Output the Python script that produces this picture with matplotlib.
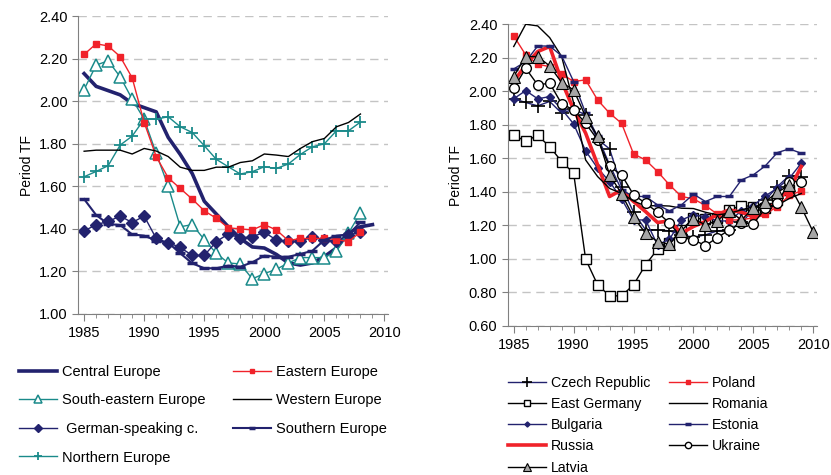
import matplotlib
matplotlib.use("Agg")
import matplotlib.pyplot as plt
from matplotlib.ticker import MultipleLocator, FormatStrFormatter

plt.rcParams["font.family"] = ["Liberation Sans", "DejaVu Sans"]

# ---------------------------------------------------------------------------
# Data: period TFR by region (left) and by country (right)
# ---------------------------------------------------------------------------
years_85_08 = list(range(1985, 2009))
years_85_09 = list(range(1985, 2010))
years_85_10 = list(range(1985, 2011))

central_europe = [2.13, 2.07, 2.05, 2.03, 1.99, 1.97, 1.95, 1.83, 1.75, 1.66,
                  1.53, 1.47, 1.41, 1.355, 1.315, 1.31, 1.28, 1.24, 1.23, 1.24,
                  1.27, 1.31, 1.38, 1.41, 1.42]
eastern_europe = [2.22, 2.27, 2.26, 2.21, 2.11, 1.90, 1.74, 1.64, 1.59, 1.54,
                  1.485, 1.45, 1.405, 1.40, 1.395, 1.42, 1.395, 1.345, 1.355, 1.355,
                  1.355, 1.35, 1.34, 1.385]
south_eastern_europe = [2.055, 2.17, 2.19, 2.115, 2.01, 1.915, 1.755, 1.60, 1.41, 1.42,
                        1.35, 1.285, 1.24, 1.235, 1.165, 1.19, 1.21, 1.24, 1.265, 1.265,
                        1.265, 1.295, 1.38, 1.475]
western_europe = [1.765, 1.77, 1.77, 1.77, 1.752, 1.778, 1.766, 1.74, 1.69, 1.675,
                  1.675, 1.69, 1.69, 1.712, 1.72, 1.752, 1.747, 1.74, 1.778, 1.81,
                  1.825, 1.88, 1.90, 1.94]
german_speaking = [1.39, 1.42, 1.435, 1.46, 1.43, 1.46, 1.355, 1.335, 1.313, 1.275,
                   1.275, 1.34, 1.376, 1.357, 1.363, 1.384, 1.348, 1.341, 1.341, 1.363,
                   1.348, 1.341, 1.371, 1.384]
southern_europe = [1.54, 1.465, 1.423, 1.418, 1.374, 1.368, 1.345, 1.335, 1.285, 1.238,
                   1.215, 1.215, 1.227, 1.222, 1.243, 1.274, 1.269, 1.269, 1.282, 1.297,
                   1.348, 1.368, 1.374, 1.431]
northern_europe = [1.645, 1.67, 1.697, 1.794, 1.836, 1.916, 1.916, 1.927, 1.88, 1.853,
                   1.791, 1.727, 1.692, 1.658, 1.669, 1.692, 1.684, 1.705, 1.75, 1.786,
                   1.80, 1.861, 1.861, 1.902]

czech_republic = [1.955, 1.933, 1.913, 1.939, 1.869, 1.893, 1.859, 1.714, 1.656, 1.431,
                  1.278, 1.173, 1.173, 1.167, 1.143, 1.129, 1.143, 1.167, 1.173, 1.217,
                  1.29, 1.35, 1.431, 1.497, 1.491]
poland = [2.33, 2.217, 2.161, 2.147, 2.104, 2.058, 2.068, 1.948, 1.869, 1.809,
          1.626, 1.59, 1.521, 1.441, 1.372, 1.358, 1.318, 1.266, 1.232, 1.232,
          1.246, 1.266, 1.312, 1.378, 1.406]
east_germany = [1.736, 1.704, 1.736, 1.67, 1.58, 1.511, 0.998, 0.845, 0.779, 0.779,
                0.845, 0.964, 1.057, 1.093, 1.173, 1.242, 1.236, 1.242, 1.292, 1.318,
                1.312, 1.302, 1.352, 1.41]
romania = [2.267, 2.40, 2.39, 2.32, 2.207, 1.93, 1.59, 1.491, 1.42, 1.39,
           1.345, 1.315, 1.318, 1.315, 1.302, 1.30, 1.278, 1.262, 1.272, 1.292,
           1.31, 1.305, 1.32, 1.36, 1.39]
bulgaria = [1.955, 2.004, 1.955, 1.968, 1.893, 1.805, 1.644, 1.541, 1.461, 1.358,
            1.232, 1.232, 1.083, 1.117, 1.232, 1.262, 1.252, 1.226, 1.226, 1.286,
            1.318, 1.376, 1.421, 1.481, 1.571]
estonia = [2.133, 2.177, 2.27, 2.27, 2.211, 2.058, 1.869, 1.73, 1.561, 1.411,
           1.372, 1.372, 1.322, 1.286, 1.322, 1.386, 1.342, 1.372, 1.372, 1.471,
           1.501, 1.555, 1.634, 1.656, 1.63]
russia = [2.058, 2.157, 2.237, 2.267, 2.06, 1.89, 1.75, 1.561, 1.372, 1.411,
          1.342, 1.282, 1.217, 1.226, 1.153, 1.193, 1.223, 1.266, 1.292, 1.278,
          1.252, 1.266, 1.352, 1.411, 1.551]
ukraine = [2.018, 2.137, 2.038, 2.048, 1.925, 1.889, 1.809, 1.71, 1.551, 1.501,
           1.382, 1.332, 1.278, 1.213, 1.127, 1.113, 1.079, 1.127, 1.173, 1.213,
           1.209, 1.302, 1.332, 1.461, 1.461]
latvia = [2.088, 2.207, 2.207, 2.151, 2.052, 2.008, 1.849, 1.73, 1.501, 1.388,
          1.248, 1.153, 1.103, 1.087, 1.169, 1.238, 1.203, 1.228, 1.286, 1.232,
          1.302, 1.342, 1.396, 1.441, 1.308, 1.159]

NAVY = "#22226e"
TEAL = "#1a8a8a"
RED = "#f0222a"


def style_axes(ax, ymin, ymax):
    ax.set_xlim(1984.5, 2010.3)
    ax.set_ylim(ymin, ymax)
    ax.xaxis.set_major_locator(MultipleLocator(5))
    ax.xaxis.set_minor_locator(MultipleLocator(1))
    ax.yaxis.set_major_locator(MultipleLocator(0.2))
    ax.yaxis.set_major_formatter(FormatStrFormatter("%.2f"))
    ax.grid(axis="y", color="#c4c4c4", linestyle=(0, (6, 4)), linewidth=1)
    ax.set_axisbelow(True)
    for side in ("top", "right"):
        ax.spines[side].set_visible(False)
    for side in ("left", "bottom"):
        ax.spines[side].set_color("#808080")
    ax.tick_params(axis="both", which="both", color="#808080", direction="out",
                   labelsize=10.5)
    ax.tick_params(axis="x", which="major", length=5)
    ax.tick_params(axis="x", which="minor", length=3)
    ax.tick_params(axis="y", length=4)
    ax.set_ylabel("Period TF", fontsize=10)


fig = plt.figure(figsize=(8.31, 4.75), dpi=100)

# ---------------------------------------------------------------------------
# Left panel: regions
# ---------------------------------------------------------------------------
ax1 = fig.add_axes([0.094, 0.339, 0.373, 0.627])
style_axes(ax1, 1.0, 2.4)

ax1.plot(years_85_09, central_europe, color=NAVY, lw=2.6, label="Central Europe")
ax1.plot(years_85_08, south_eastern_europe, color=TEAL, lw=1, marker="^", ms=8,
         mfc="white", mec=TEAL, mew=1.1, label="South-eastern Europe")
ax1.plot(years_85_08, german_speaking, color=NAVY, lw=1, marker="D", ms=6.5,
         mfc=NAVY, mec=NAVY, label=" German-speaking c.")
ax1.plot(years_85_08, northern_europe, color=TEAL, lw=1, marker="+", ms=9,
         mew=1.3, label="Northern Europe")
ax1.plot(years_85_08, eastern_europe, color=RED, lw=1, marker="s", ms=5,
         mfc=RED, mec=RED, label="Eastern Europe")
ax1.plot(years_85_08, western_europe, color="black", lw=1, label="Western Europe")
ax1.plot(years_85_08, southern_europe, color=NAVY, lw=1.5, marker="_", ms=7,
         mew=2.5, label="Southern Europe")

fig.legend(handles=ax1.get_lines(), loc="upper left", bbox_to_anchor=(0.023, 0.232),
           ncol=2, frameon=False, fontsize=10.5, handlelength=2.6,
           handletextpad=0.35, labelspacing=1.0, columnspacing=1.85,
           markerscale=0.65, borderaxespad=0, borderpad=0)

# ---------------------------------------------------------------------------
# Right panel: countries
# ---------------------------------------------------------------------------
ax2 = fig.add_axes([0.611, 0.314, 0.372, 0.635])
style_axes(ax2, 0.6, 2.4)

ax2.plot(years_85_09, czech_republic, color=NAVY, lw=1, marker="+", ms=10,
         mec="black", mew=1.2, label="Czech Republic")
ax2.plot(years_85_08, east_germany, color="black", lw=1, marker="s", ms=7,
         mfc="white", mec="black", mew=1, label="East Germany")
ax2.plot(years_85_09, bulgaria, color=NAVY, lw=1, marker="D", ms=4,
         mfc=NAVY, mec=NAVY, label="Bulgaria")
ax2.plot(years_85_09, russia, color=RED, lw=2.6, label="Russia")
ax2.plot(years_85_09, poland, color=RED, lw=1, marker="s", ms=4.5,
         mfc=RED, mec=RED, label="Poland")
ax2.plot(years_85_09, romania, color="black", lw=1, label="Romania")
ax2.plot(years_85_09, estonia, color=NAVY, lw=1, marker="_", ms=6, mew=2.5,
         label="Estonia")
ax2.plot(years_85_09, ukraine, color="black", lw=1, marker="o", ms=7,
         mfc="white", mec="black", mew=1, label="Ukraine")
ax2.plot(years_85_10, latvia, color="black", lw=1, marker="^", ms=9,
         mfc="#a6a6a6", mec="black", mew=0.8, label="Latvia")

h = ax2.get_lines()
order = [h[0], h[1], h[2], h[3], h[8], h[4], h[5], h[6], h[7]]
fig.legend(handles=order, loc="upper left", bbox_to_anchor=(0.611, 0.208),
           ncol=2, frameon=False, fontsize=10.2, handlelength=2.7,
           handletextpad=0.35, labelspacing=0.5, columnspacing=1.3,
           markerscale=0.65, borderaxespad=0, borderpad=0)

fig.savefig("out.png", dpi=100)
